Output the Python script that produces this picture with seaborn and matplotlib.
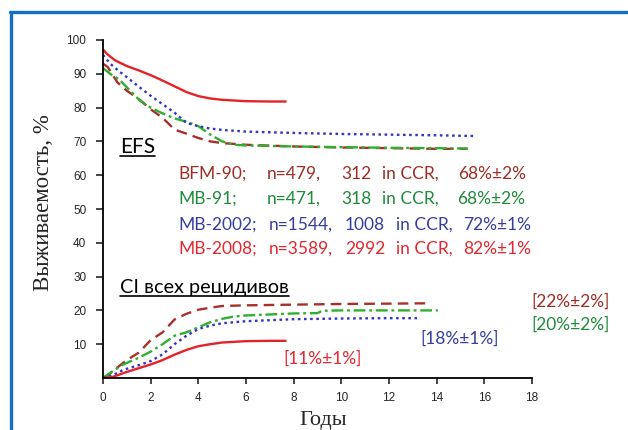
import numpy as np
import pandas as pd
import matplotlib
matplotlib.use("Agg")
import matplotlib.pyplot as plt
import seaborn as sns
from matplotlib.lines import Line2D

# ---------------- data ----------------
# EFS curves
efs_bfm90_t = [0, 0.2, 0.6, 1, 1.5, 2, 2.5, 3, 3.5, 4, 4.5, 5, 6, 8, 10, 12, 14, 15.3]
efs_bfm90_v = [93, 92, 87.5, 85, 82.5, 79.5, 77, 73.5, 72.3, 71, 70, 69.5, 69, 68.5, 68.2, 68, 67.8, 67.8]
efs_mb91_t = [0, 0.3, 0.7, 1, 1.5, 2, 2.5, 3, 3.5, 4, 4.5, 5, 5.5, 6, 8, 10, 12, 14, 15.3]
efs_mb91_v = [91.7, 90, 88.2, 86, 82.4, 80, 78.3, 76.8, 75.8, 74.5, 72, 70, 69, 68.8, 68.5, 68.3, 68.1, 68, 67.9]
efs_mb2002_t = [0, 0.3, 0.7, 1, 1.5, 2, 2.5, 3, 3.5, 4, 4.5, 5, 6, 8, 10, 12, 14, 15.6]
efs_mb2002_v = [95.6, 93, 90.6, 89, 86.2, 83.5, 81, 78.5, 75.5, 74.5, 73.8, 73.4, 72.9, 72.5, 72.2, 72, 71.8, 71.6]
efs_mb2008_t = [0, 0.15, 0.5, 1, 1.5, 2, 2.5, 3, 3.5, 4, 4.5, 5, 6, 7, 7.7]
efs_mb2008_v = [97.2, 96, 94, 92.3, 91, 89.6, 88, 86.3, 84.6, 83.4, 82.7, 82.3, 81.9, 81.8, 81.8]

# cumulative incidence of relapses
ci_bfm90_t = [0, 0.2, 0.45, 1, 1.5, 2, 2.5, 3, 3.5, 4, 4.5, 5, 6, 8, 10, 12, 13.6]
ci_bfm90_v = [0, 0.8, 2.3, 5.3, 7.5, 11.2, 13.5, 17.3, 19, 20.2, 20.8, 21.3, 21.5, 21.7, 21.9, 22, 22.1]
ci_mb91_t = [0, 0.3, 0.85, 1.5, 2, 2.5, 3, 3.5, 4, 4.5, 5, 5.5, 6, 8, 9, 9.2, 10, 12, 14.05]
ci_mb91_v = [0, 1.5, 4, 6, 7.8, 10, 12.5, 13.5, 15, 16.5, 17.5, 18.2, 18.5, 19.1, 19.2, 19.9, 20, 20, 20]
ci_mb2002_t = [0, 0.4, 0.85, 1.5, 2, 2.5, 3, 3.5, 4, 4.5, 5, 6, 8, 10, 12, 13.2]
ci_mb2002_v = [0, 0.8, 2.4, 3.8, 5, 7, 10, 12.5, 14.5, 15.5, 16.2, 16.8, 17.4, 17.6, 17.7, 17.7]
ci_mb2008_t = [0, 0.4, 1, 1.5, 2, 2.5, 3, 3.5, 4, 4.5, 5, 6, 7, 7.7]
ci_mb2008_v = [0, 0.3, 1.8, 2.9, 4, 5.3, 6.9, 8.3, 9.4, 10, 10.5, 10.9, 11, 11]

protocols = ["BFM-90", "MB-91", "MB-2002", "MB-2008"]
legend_rows = [
    ["BFM-90;", "n=479,", "312", "in CCR,", "68%\u00b12%"],
    ["MB-91;", "n=471,", "318", "in CCR,", "68%\u00b12%"],
    ["MB-2002;", "n=1544,", "1008", "in CCR,", "72%\u00b11%"],
    ["MB-2008;", "n=3589,", "2992", "in CCR,", "82%\u00b11%"],
]
ci_labels = ["[22%\u00b12%]", "[20%\u00b12%]", "[18%\u00b11%]", "[11%\u00b11%]"]
x_ticks = list(range(0, 19, 2))
y_ticks = list(range(10, 101, 10))
y_label = "Выживаемость, %"
x_label = "Годы"

# ---------------- style ----------------
sns.set_style("white")
plt.rcParams["font.family"] = ["DejaVu Sans"]

line_colors = {"BFM-90": "#A8302C", "MB-91": "#2EB02E", "MB-2002": "#3535C2", "MB-2008": "#E52228"}
text_colors = {"BFM-90": "#9E2E25", "MB-91": "#1D8B3B", "MB-2002": "#353DA3", "MB-2008": "#E5262E"}
dashes = {"BFM-90": (4.5, 2.6), "MB-91": (5, 1.6, 1.2, 1.6), "MB-2002": (1.1, 1.5), "MB-2008": ()}

fig = plt.figure(figsize=(6.28, 4.30), dpi=100)
W, H = 628, 430
ax = fig.add_axes([103 / W, 1 - 378 / H, (532 - 103) / W, (378 - 40) / H])

series = [
    ("BFM-90", efs_bfm90_t, efs_bfm90_v, ci_bfm90_t, ci_bfm90_v),
    ("MB-91", efs_mb91_t, efs_mb91_v, ci_mb91_t, ci_mb91_v),
    ("MB-2002", efs_mb2002_t, efs_mb2002_v, ci_mb2002_t, ci_mb2002_v),
    ("MB-2008", efs_mb2008_t, efs_mb2008_v, ci_mb2008_t, ci_mb2008_v),
]
for name, et, ev, ct, cv in series:
    for t, v in ((et, ev), (ct, cv)):
        df = pd.DataFrame({"t": t, "v": v})
        sns.lineplot(data=df, x="t", y="v", ax=ax, color=line_colors[name],
                     linewidth=1.7, legend=False)
        ln = ax.lines[-1]
        if dashes[name]:
            ln.set_dashes(dashes[name])
        ln.set_solid_capstyle("butt")
        ln.set_dash_capstyle("butt")

ax.set_xlim(0, 18)
ax.set_ylim(0, 100)
ax.set_xticks(x_ticks)
ax.set_yticks(y_ticks)
ax.set_xlabel("")
ax.set_ylabel("")
for s in ["top", "right"]:
    ax.spines[s].set_visible(False)
for s in ["left", "bottom"]:
    ax.spines[s].set_color("black")
    ax.spines[s].set_linewidth(1.3)
ax.tick_params(axis="y", direction="out", length=5, width=1.2, pad=7, labelsize=8.5, left=True)
ax.tick_params(axis="x", direction="out", length=4, width=1.2, pad=6, labelsize=8.5, bottom=True)
for lab in ax.get_xticklabels() + ax.get_yticklabels():
    lab.set_family(["Liberation Sans"])

def px2data(px, py):
    return (px - 103) / ((532 - 103) / 18), (378 - py) / ((378 - 40) / 100)

tfont = ["Lato", "DejaVu Sans"]
fs = 12.5
row_y = [174, 198.5, 224.5, 248.5]
col_x = [
    [178.3, 266.7, 341.7, 381.7, 458.3],
    [178.3, 266.7, 341.7, 381.7, 457.3],
    [178.3, 269, 345, 396, 462.7],
    [178.3, 269, 345, 396, 462.7],
]
for i, name in enumerate(protocols):
    for j, seg in enumerate(legend_rows[i]):
        x, y = px2data(col_x[i][j], row_y[i])
        ax.text(x, y, seg, color=text_colors[name], fontsize=fs, family=tfont,
                ha="left", va="center")

lab_pos = [(531.7, 301.7), (531.7, 325), (420, 338.3), (283.3, 358.3)]
for i, name in enumerate(protocols):
    x, y = px2data(*lab_pos[i])
    ax.text(x, y, ci_labels[i], color=text_colors[name], fontsize=fs, family=tfont,
            ha="left", va="center", clip_on=False)

# underlined headings
x, y = px2data(120, 147)
t_efs = ax.text(x, y, "EFS", fontsize=15, family=tfont, color="black", ha="left", va="center")
x, y = px2data(120, 288)
t_ci = ax.text(x, y, "CI всех рецидивов", fontsize=14.3, family=tfont, color="black",
               ha="left", va="center")
fig.canvas.draw()
r = fig.canvas.get_renderer()
for t in (t_efs, t_ci):
    bb = t.get_window_extent(r)
    yb = bb.y0 + 1
    fig.add_artist(Line2D([bb.x0 / W, bb.x1 / W], [yb / H, yb / H], color="black", lw=1.2))

# axis labels
fig.text(44 / W, 1 - 203 / H, y_label, rotation=90, ha="center", va="center",
         fontsize=16.5, family=["Liberation Serif", "DejaVu Serif"])
fig.text(323 / W, 1 - 421 / H, x_label, ha="center", va="center",
         fontsize=16, family=["Liberation Serif", "DejaVu Serif"])

# blue frame
bc = "#1470BE"
fig.add_artist(Line2D([9.5 / W, 1.0], [1 - 11.5 / H, 1 - 11.5 / H], color=bc, lw=2.4))
fig.add_artist(Line2D([11 / W, 11 / W], [0, 1 - 11.5 / H], color=bc, lw=2.4))

fig.savefig("out.png", dpi=100)
